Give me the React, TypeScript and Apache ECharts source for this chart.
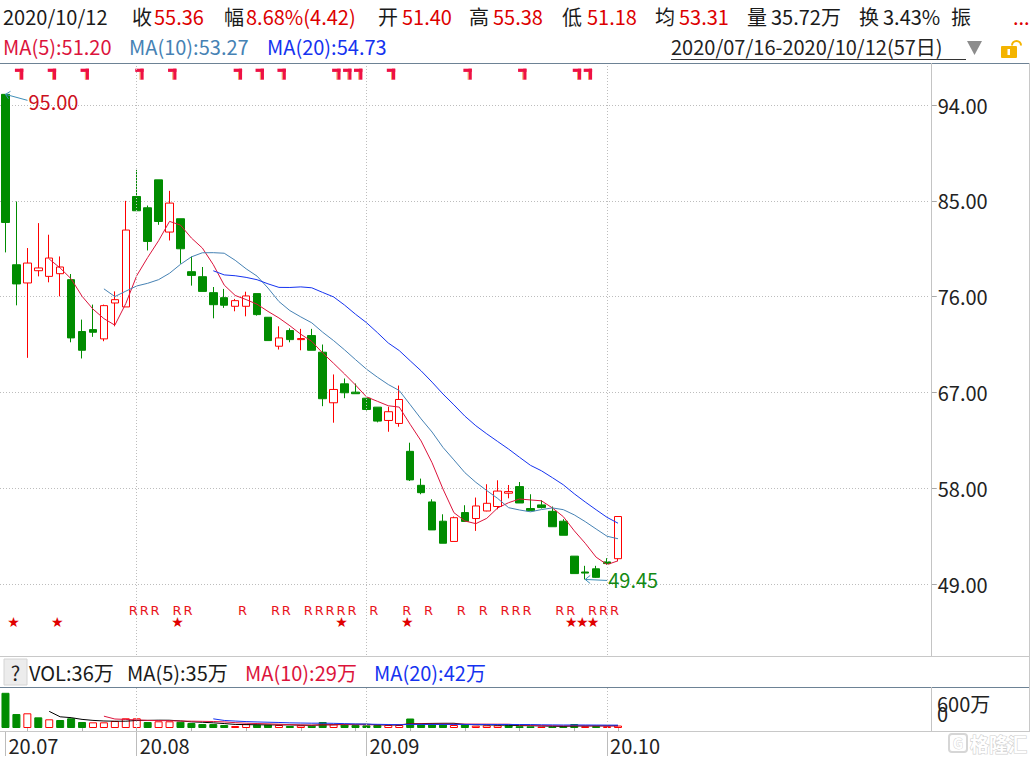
import React, { useEffect, useRef } from 'react';
import * as echarts from 'echarts';

// ---------------- data ----------------
const dates = [
  '2020/07/16', '2020/07/17', '2020/07/20', '2020/07/21', '2020/07/22', '2020/07/23', '2020/07/24', '2020/07/27', '2020/07/28', '2020/07/29', '2020/07/30', '2020/07/31',
  '2020/08/03', '2020/08/04', '2020/08/05', '2020/08/06', '2020/08/07', '2020/08/10', '2020/08/11', '2020/08/12', '2020/08/13', '2020/08/14', '2020/08/17', '2020/08/18', '2020/08/19', '2020/08/20', '2020/08/21', '2020/08/24', '2020/08/25', '2020/08/26', '2020/08/27', '2020/08/28', '2020/08/31',
  '2020/09/01', '2020/09/02', '2020/09/03', '2020/09/04', '2020/09/07', '2020/09/08', '2020/09/09', '2020/09/10', '2020/09/11', '2020/09/14', '2020/09/15', '2020/09/16', '2020/09/17', '2020/09/18', '2020/09/21', '2020/09/22', '2020/09/23', '2020/09/24', '2020/09/25', '2020/09/28', '2020/09/29', '2020/09/30',
  '2020/10/09', '2020/10/12',
];
const opens = [
  95.0, 79.0, 77.29, 78.44, 77.91, 78.16, 77.6, 72.73, 72.91, 72.04, 75.41, 75.04,
  85.41, 84.35, 86.97, 82.07, 83.32, 78.35, 77.88, 76.38, 75.91, 75.1, 75.1, 76.29, 74.07, 71.35, 72.82, 71.97, 72.35, 70.79, 66.04, 67.82, 67.04,
  66.47, 65.63, 64.38, 64.1, 61.48, 58.29, 56.73, 54.92, 53.02, 55.73, 55.17, 55.88, 56.3, 57.55, 58.17, 56.11, 56.45, 55.85, 54.92, 51.64, 50.15, 50.45,
  51.1, 51.4,
];
const closes = [
  82.97, 77.2, 79.16, 78.7, 79.63, 78.79, 72.13, 70.97, 72.66, 75.16, 75.72, 82.26,
  84.07, 81.19, 83.06, 84.79, 80.5, 78.0, 76.5, 75.25, 75.2, 75.63, 76.07, 74.32, 71.88, 72.13, 71.97, 72.07, 70.97, 66.42, 67.29, 66.98, 66.89,
  65.41, 64.32, 65.2, 66.35, 58.8, 57.6, 54.1, 52.85, 55.25, 54.9, 56.35, 56.6, 57.75, 57.7, 56.63, 55.9, 56.2, 54.4, 53.6, 50.0, 50.05, 49.65,
  50.94, 55.36,
];
const lows = [
  80.16, 75.19, 70.26, 77.91, 77.35, 76.03, 71.72, 70.2, 72.23, 71.82, 73.22, 75.04,
  84.07, 80.34, 82.75, 81.28, 79.1, 77.04, 76.5, 73.97, 74.95, 74.63, 74.16, 74.22, 71.88, 71.04, 71.72, 70.97, 70.97, 65.72, 64.17, 66.47, 66.89,
  65.32, 64.2, 63.32, 63.79, 58.7, 57.45, 54.1, 52.85, 53.02, 54.9, 54.01, 55.85, 56.04, 57.07, 56.63, 55.88, 56.11, 54.4, 53.6, 50.0, 49.45, 49.6,
  50.85, 51.18,
];
const highs = [
  95.0, 84.94, 80.57, 82.91, 81.82, 79.78, 78.13, 73.85, 75.26, 75.26, 76.5, 85.0,
  87.91, 84.56, 86.97, 85.94, 83.32, 79.78, 78.79, 76.91, 76.73, 75.79, 76.47, 76.29, 74.07, 73.22, 73.03, 72.98, 72.98, 71.51, 68.7, 68.32, 67.85,
  66.47, 65.63, 65.67, 67.66, 62.29, 58.92, 56.98, 55.57, 55.36, 56.42, 57.14, 58.39, 58.76, 58.32, 58.6, 57.45, 56.89, 56.3, 55.11, 51.64, 50.73, 50.73,
  51.45, 55.38,
];
// volume, unit 万
const volumes = [
  515, 204, 215, 156, 127, 117, 142, 88, 83, 83, 102, 142,
  142, 88, 98, 98, 92, 73, 58, 58, 44, 29, 58, 48, 48, 44, 29, 39, 34, 88, 54, 54, 44,
  39, 44, 44, 44, 139, 54, 54, 54, 44, 54, 34, 39, 39, 39, 26, 24, 20, 22, 25, 58, 25, 29,
  25, 35.72,
];
const topMarkIdx = [1, 4, 7, 12, 15, 21, 23, 25, 30, 31, 32, 35, 42, 47, 52, 53];
const rMarkIdx = [12, 13, 14, 16, 17, 22, 25, 26, 28, 29, 30, 31, 32, 34, 37, 39, 42, 44, 46, 47, 48, 51, 52, 54, 55, 56];
const starIdx = [1, 5, 16, 31, 37, 52, 53, 54];
const priceTicks = [49, 58, 67, 76, 85, 94];
const volAxisLabels = ['600万', '0'];
const monthStartIdx = [0, 12, 33, 55];
const weekTickIdx = [2, 7, 12, 17, 22, 27, 32, 37, 42, 47, 52, 56];

const headerRow1: [number, string, string][] = [
  [3, '2020/10/12', 'k'], [132, '收', 'k'], [154, '55.36', 'r'], [224, '幅', 'k'], [246, '8.68%(4.42)', 'r'],
  [378, '开', 'k'], [402, '51.40', 'r'], [469, '高', 'k'], [493, '55.38', 'r'], [562, '低', 'k'], [587, '51.18', 'r'],
  [655, '均', 'k'], [679, '53.31', 'r'], [747, '量', 'k'], [771, '35.72万', 'k'], [859, '换', 'k'], [883, '3.43%', 'k'],
  [951, '振', 'k'], [1013, '...', 'r'],
];
const headerRow2: [number, string, string][] = [
  [3, 'MA(5):51.20', 'ma5'], [129, 'MA(10):53.27', 'ma10'], [267, 'MA(20):54.73', 'ma20'],
];
const volHeader: [number, string, string][] = [
  [29, 'VOL:36万', 'k'], [127, 'MA(5):35万', 'k'], [245, 'MA(10):29万', 'ma5'], [374, 'MA(20):42万', 'ma20'],
];
const dateRangeText = '2020/07/16-2020/10/12(57日)';

// ---------------- styles ----------------
const FONT = '"Noto Sans CJK SC", "Noto Sans", sans-serif';
const FS = 20;
const RED = '#ff0000';
const GREEN = '#008c00';
const C = {
  k: '#1a1a1a', r: '#dd0000', ma5: '#dc143c', ma10: '#4682b4', ma20: '#1533f0',
} as Record<string, string>;
const SLOTS = 85;
const BAND = 10.95;
const GRID_W = SLOTS * BAND;

function movingAvg(arr: number[], n: number) {
  return arr.map((_, i) => {
    if (i < n - 1) return '-';
    let s = 0;
    for (let k = i - n + 1; k <= i; k++) s += arr[k];
    return +(s / n).toFixed(3);
  });
}

function buildOption() {
  const xCats = dates.concat(Array.from({ length: SLOTS - dates.length }, (_, k) => `pad${k}`));
  const monthLabel = (d: string) => d.slice(2, 4) + '.' + d.slice(5, 7);
  const candleData = dates.map((_, i) => [opens[i], closes[i], lows[i], highs[i]]);
  const volData = volumes.map((v, i) => {
    const up = i === 0 ? closes[i] >= opens[i] : closes[i] >= closes[i - 1];
    return {
      value: v,
      itemStyle: up
        ? { color: '#ffffff', borderColor: RED, borderWidth: 1 }
        : { color: GREEN, borderColor: GREEN, borderWidth: 1 },
    };
  });
  const maxHigh = Math.max(...highs);
  const minLow = Math.min(...lows);
  const extremes = [
    [highs.indexOf(maxHigh), maxHigh, 1],
    [lows.indexOf(minLow), minLow, 0],
  ];
  const monthLines = monthStartIdx.filter((i) => i > 0).map((i) => ({ xAxis: xCats[i] }));
  const markLineStyle = {
    silent: true,
    symbol: ['none', 'none'],
    label: { show: false },
    lineStyle: { color: '#bdbdbd', type: [1, 2], width: 1 },
    data: monthLines,
  };

  const text = (x: number, y: number, t: string, fill: string, extra: any = {}) => ({
    type: 'text', x, y, z: 100,
    style: {
      text: t, fill, font: `${FS}px ${FONT}`,
      textAlign: 'left', textVerticalAlign: 'middle', align: 'left', verticalAlign: 'middle', ...extra,
    },
  });
  const hline = (y: number, x1: number, x2: number, stroke: string) => ({
    type: 'line', z: 90, shape: { x1, y1: y, x2, y2: y }, style: { stroke, lineWidth: 1 },
  });
  const vline = (x: number, y1: number, y2: number, stroke: string) => ({
    type: 'line', z: 90, shape: { x1: x, y1, x2: x, y2 }, style: { stroke, lineWidth: 1 },
  });

  const graphic: any[] = [
    ...headerRow1.map(([x, t, c]) => text(x, 16, t, C[c])),
    ...headerRow2.map(([x, t, c]) => text(x, 46, t, C[c])),
    text(671, 46, dateRangeText, '#222'),
    hline(59.5, 671, 966, '#333'),
    { type: 'polygon', z: 100, shape: { points: [[967, 41], [982, 41], [974.5, 55]] }, style: { fill: '#8c8c8c' } },
    { type: 'rect', z: 100, shape: { x: 1001, y: 46, width: 16, height: 12, r: 1 }, style: { fill: '#f4b400' } },
    { type: 'rect', z: 101, shape: { x: 1007.5, y: 49, width: 2.5, height: 6 }, style: { fill: '#ffffff' } },
    { type: 'arc', z: 100, shape: { cx: 1016.5, cy: 45.5, r: 4.5, startAngle: Math.PI, endAngle: Math.PI * 2 }, style: { stroke: '#f4b400', lineWidth: 2, fill: 'none' } },
    hline(63.5, 0, 1030, '#6d8295'),
    vline(931.5, 63, 656, '#c4c4c4'),
    hline(656.5, 0, 1030, '#c8c8c8'),
    hline(687.5, 0, 1030, '#6d8295'),
    vline(931.5, 687, 731, '#c4c4c4'),
    hline(731.5, 0, 1030, '#c8c8c8'),
    vline(1029.5, 63, 731, '#c8c8c8'),
    { type: 'rect', z: 100, shape: { x: 4, y: 659, width: 23, height: 26 }, style: { fill: '#ececec', stroke: '#d4d4d4', lineWidth: 1 } },
    text(15.5, 672, '?', '#222', { textAlign: 'center', align: 'center' }),
    ...volHeader.map(([x, t, c]) => text(x, 672, t, C[c])),
    text(937, 703.5, volAxisLabels[0], '#222'),
    text(937, 713.5, volAxisLabels[1], '#222'),
    { type: 'rect', z: 100, shape: { x: 949, y: 734, width: 18, height: 18, r: 3 }, style: { fill: '#fff', stroke: '#d6d6d6', lineWidth: 2 } },
    text(953, 743, 'G', '#ffffff', { font: `bold 14px ${FONT}`, stroke: '#d6d6d6', lineWidth: 1 }),
    text(970, 743, '格隆汇', '#ffffff', { font: `bold 19px ${FONT}`, stroke: '#d0d0d0', lineWidth: 1.2 }),
  ];

  return {
    animation: false,
    backgroundColor: '#ffffff',
    grid: [
      { left: -1, top: 63, width: GRID_W, height: 592 },
      { left: -1, top: 687, width: GRID_W, height: 41 },
    ],
    xAxis: [
      { type: 'category', gridIndex: 0, data: xCats, boundaryGap: true, show: false },
      {
        type: 'category', gridIndex: 1, data: xCats, boundaryGap: true, position: 'bottom', offset: 3,
        axisLine: { show: false },
        axisTick: {
          show: true, alignWithLabel: true, length: 4, lineStyle: { color: '#b4b4b4' },
          interval: (i: number) => weekTickIdx.includes(i),
        },
        axisLabel: {
          show: true, interval: (i: number) => monthStartIdx.includes(i),
          formatter: (v: string) => monthLabel(v), align: 'left', padding: [0, 0, 0, 3],
          color: '#222', fontSize: FS, fontFamily: FONT, margin: 4,
        },
        splitLine: { show: false },
      },
      {
        type: 'category', gridIndex: 1, data: xCats, boundaryGap: true, position: 'bottom', offset: 3,
        axisLine: { show: false }, axisLabel: { show: false }, splitLine: { show: false },
        axisTick: {
          show: true, alignWithLabel: true, length: 25, lineStyle: { color: '#bcbcbc' },
          interval: (i: number) => monthStartIdx.includes(i),
        },
      },
    ],
    yAxis: [
      {
        type: 'value', gridIndex: 0, position: 'right', offset: 2, min: 42.357, max: 97.944, scale: true,
        axisLine: { show: false },
        axisTick: { show: true, length: 5, customValues: priceTicks, lineStyle: { color: '#a8a8a8' } },
        axisLabel: {
          customValues: priceTicks, formatter: (v: number) => v.toFixed(2), margin: 6,
          color: '#222', fontSize: FS, fontFamily: FONT,
        },
        splitLine: { show: true, lineStyle: { color: '#bdbdbd', type: [1, 2], width: 1 } },
      },
      { type: 'value', gridIndex: 1, min: 0, max: 600, show: false, splitLine: { show: false } },
    ],
    graphic,
    series: [
      {
        type: 'candlestick', name: 'K', xAxisIndex: 0, yAxisIndex: 0, data: candleData, barWidth: 8,
        itemStyle: { color: '#ffffff', color0: GREEN, borderColor: RED, borderColor0: GREEN, borderWidth: 1 },
        markLine: markLineStyle,
      },
      ...([[5, C.ma5], [10, C.ma10], [20, C.ma20]] as [number, string][]).map(([n, col]) => ({
        type: 'line', name: `MA${n}`, xAxisIndex: 0, yAxisIndex: 0, data: movingAvg(closes, n),
        symbol: 'none', showSymbol: false, smooth: false, lineStyle: { color: col, width: 1 }, z: 3,
      })),
      {
        type: 'custom', name: 'top', xAxisIndex: 0, yAxisIndex: 0,
        data: topMarkIdx.map((i) => [i, highs[i]]),
        renderItem: (params: any, api: any) => {
          const [x] = api.coord([api.value(0), api.value(1)]);
          const top = params.coordSys.y;
          return {
            type: 'group', children: [
              { type: 'rect', shape: { x: x - 1.5, y: top + 5.7, width: 8.4, height: 3.2 }, style: { fill: '#ee1144' } },
              { type: 'rect', shape: { x: x + 3.6, y: top + 5.7, width: 3.3, height: 11 }, style: { fill: '#ee1144' } },
              { type: 'rect', shape: { x: x + 2.8, y: top + 8.9, width: 0.9, height: 7.8 }, style: { fill: '#f39a4a' } },
            ],
          };
        },
      },
      {
        type: 'custom', name: 'R', xAxisIndex: 0, yAxisIndex: 0,
        data: rMarkIdx.map((i) => [i, lows[i]]),
        renderItem: (params: any, api: any) => {
          const [x] = api.coord([api.value(0), api.value(1)]);
          const top = params.coordSys.y;
          return {
            type: 'text', x: x - 3.5, y: top + 547,
            style: { text: 'R', fill: '#e8141c', font: '13px "DejaVu Sans", sans-serif', textAlign: 'center', textVerticalAlign: 'middle', align: 'center', verticalAlign: 'middle' },
          };
        },
      },
      {
        type: 'custom', name: 'star', xAxisIndex: 0, yAxisIndex: 0,
        data: starIdx.map((i) => [i, lows[i]]),
        renderItem: (params: any, api: any) => {
          const [x] = api.coord([api.value(0), api.value(1)]);
          const top = params.coordSys.y;
          return {
            type: 'text', x: x - 3, y: top + 559,
            style: { text: '★', fill: '#e00000', font: '14px "DejaVu Sans", sans-serif', textAlign: 'center', textVerticalAlign: 'middle', align: 'center', verticalAlign: 'middle' },
          };
        },
      },
      {
        type: 'custom', name: 'extremes', xAxisIndex: 0, yAxisIndex: 0, z: 10,
        data: extremes,
        renderItem: (params: any, api: any) => {
          const v = api.value(1);
          const hi = api.value(2) === 1;
          const [x, y] = api.coord([api.value(0), v]);
          const ex = x + 22;
          const ey = hi ? y + 6 : y + 1;
          const lc = '#3f8fb8';
          return {
            type: 'group', children: [
              { type: 'line', shape: { x1: x, y1: y, x2: ex, y2: ey }, style: { stroke: lc, lineWidth: 1 } },
              { type: 'polyline', shape: { points: hi ? [[x + 5, y - 3], [x, y], [x + 3, y + 4.5]] : [[x + 5, y - 4], [x, y], [x + 5, y + 4]] }, style: { stroke: lc, lineWidth: 1, fill: 'none' } },
              {
                type: 'text', x: ex + 1, y: hi ? y + 7.5 : y,
                style: { text: v.toFixed(2), fill: hi ? '#cc1020' : '#138a13', font: `${FS}px ${FONT}`, textAlign: 'left', textVerticalAlign: 'middle', align: 'left', verticalAlign: 'middle' },
              },
            ],
          };
        },
      },
      {
        type: 'bar', name: 'VOL', xAxisIndex: 1, yAxisIndex: 1, data: volData, barWidth: 8,
        markLine: markLineStyle,
      },
      ...([[5, '#000000'], [10, C.ma5], [20, C.ma20]] as [number, string][]).map(([n, col]) => ({
        type: 'line', name: `VMA${n}`, xAxisIndex: 1, yAxisIndex: 1, data: movingAvg(volumes, n),
        symbol: 'none', showSymbol: false, smooth: false, lineStyle: { color: col, width: 1 }, z: 3,
      })),
    ],
  };
}

export default function App() {
  const ref = useRef<HTMLDivElement>(null);
  useEffect(() => {
    if (!ref.current) return;
    const chart = echarts.init(ref.current, null, { renderer: 'svg' });
    chart.setOption(buildOption() as any);
    return () => chart.dispose();
  }, []);
  return (
    <div
      ref={ref}
      style={{ position: 'fixed', left: 0, top: 0, width: 1030, height: 758, background: '#ffffff' }}
    />
  );
}
